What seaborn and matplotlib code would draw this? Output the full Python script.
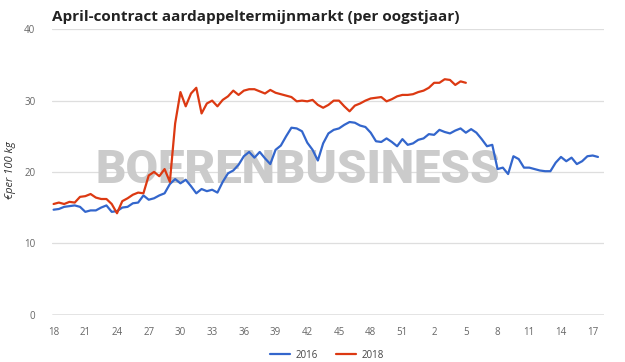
import matplotlib
matplotlib.use("Agg")
import matplotlib.pyplot as plt
import numpy as np
import pandas as pd
import seaborn as sns

# Prices (EUR per 100 kg) in half-week steps from week 18
prices_2016 = [
    14.7, 14.8, 15.1, 15.2, 15.3, 15.1, 14.4, 14.6, 14.6, 15.0,
    15.3, 14.4, 14.5, 15.0, 15.1, 15.6, 15.7, 16.7, 16.1, 16.3,
    16.7, 17.0, 18.3, 19.0, 18.4, 18.9, 18.0, 17.0, 17.6, 17.3,
    17.5, 17.1, 18.6, 19.8, 20.2, 21.0, 22.2, 22.8, 22.0, 22.8,
    21.9, 21.1, 23.1, 23.7, 25.0, 26.2, 26.1, 25.7, 24.1, 23.1,
    21.6, 24.0, 25.4, 25.9, 26.1, 26.6, 27.0, 26.9, 26.5, 26.3,
    25.5, 24.3, 24.2, 24.7, 24.2, 23.6, 24.6, 23.8, 24.0, 24.5,
    24.7, 25.3, 25.2, 25.9, 25.6, 25.4, 25.8, 26.1, 25.5, 26.0,
    25.5, 24.6, 23.6, 23.8, 20.4, 20.6, 19.7, 22.2, 21.8, 20.6,
    20.6, 20.4, 20.2, 20.1, 20.1, 21.3, 22.1, 21.5, 22.0, 21.1,
    21.5, 22.2, 22.3, 22.1,
]
prices_2018 = [
    15.5, 15.7, 15.5, 15.8, 15.7, 16.5, 16.6, 16.9, 16.4, 16.2,
    16.2, 15.5, 14.2, 15.9, 16.3, 16.8, 17.1, 17.0, 19.5, 20.0,
    19.4, 20.4, 18.6, 26.8, 31.2, 29.2, 31.0, 31.8, 28.2, 29.6,
    30.0, 29.2, 30.1, 30.6, 31.4, 30.8, 31.4, 31.6, 31.6, 31.3,
    31.0, 31.5, 31.1, 30.9, 30.7, 30.5, 29.9, 30.0, 29.9, 30.1,
    29.4, 29.0, 29.4, 30.0, 30.0, 29.2, 28.5, 29.3, 29.6, 30.0,
    30.3, 30.4, 30.5, 29.9, 30.2, 30.6, 30.8, 30.8, 30.9, 31.2,
    31.4, 31.8, 32.5, 32.5, 33.0, 32.9, 32.2, 32.7, 32.5,
]
week_labels = ["18", "21", "24", "27", "30", "33", "36", "39", "42",
               "45", "48", "51", "2", "5", "8", "11", "14", "17"]
y_ticks = [0, 10, 20, 30, 40]

df = pd.concat([
    pd.DataFrame({"week": np.arange(len(prices_2016)) * 0.5,
                  "price": prices_2016, "jaar": "2016"}),
    pd.DataFrame({"week": np.arange(len(prices_2018)) * 0.5,
                  "price": prices_2018, "jaar": "2018"}),
])

sns.set_style("white")
plt.rcParams["font.family"] = ["Open Sans", "DejaVu Sans"]

fig = plt.figure(figsize=(6.25, 3.62), dpi=100)
ax = fig.add_axes([0.0832, 0.1312, 0.8832, 0.7878])

sns.lineplot(data=df, x="week", y="price", hue="jaar",
             palette={"2016": "#3366cc", "2018": "#dc3912"},
             linewidth=1.6, ax=ax, zorder=3)

ax.set_xlim(-0.15, 52.07)
ax.set_ylim(0, 40)
ax.set_xticks(np.arange(len(week_labels)) * 3)
ax.set_xticklabels(week_labels)
ax.set_yticks(y_ticks)
ax.tick_params(axis="both", length=0, labelsize=7, labelcolor="#666666")
ax.tick_params(axis="y", pad=12)
ax.tick_params(axis="x", pad=9)

for v in y_ticks[1:]:
    ax.axhline(v, color="#dedede", lw=0.9, zorder=1)
ax.axhline(0, color="#777777", lw=1.0, zorder=2)
for s in ax.spines.values():
    s.set_visible(False)

ax.set_xlabel("")
ax.set_ylabel("€per 100 kg", fontsize=8, style="italic", color="#333333")
ax.yaxis.set_label_coords(-0.065, 0.507)

# watermark
ax.text(0.446, 0.507, "BOERENBUSINESS", transform=ax.transAxes,
        ha="center", va="center", fontsize=34, fontweight="black",
        family=["Roboto", "DejaVu Sans"],
        color="#cbcbcb", zorder=2.5)

fig.text(0.0832, 0.953, "April-contract aardappeltermijnmarkt (per oogstjaar)",
         fontsize=11, fontweight="bold", color="#222222", va="center", ha="left")

handles, labels = ax.get_legend_handles_labels()
ax.legend().remove()
fig.legend(handles, labels, loc="center", bbox_to_anchor=(0.523, 0.019),
           ncol=2, frameon=False, fontsize=7, handlelength=2.1,
           handletextpad=0.5, columnspacing=1.9, labelcolor="#444444")

fig.savefig("out.png", dpi=100)
